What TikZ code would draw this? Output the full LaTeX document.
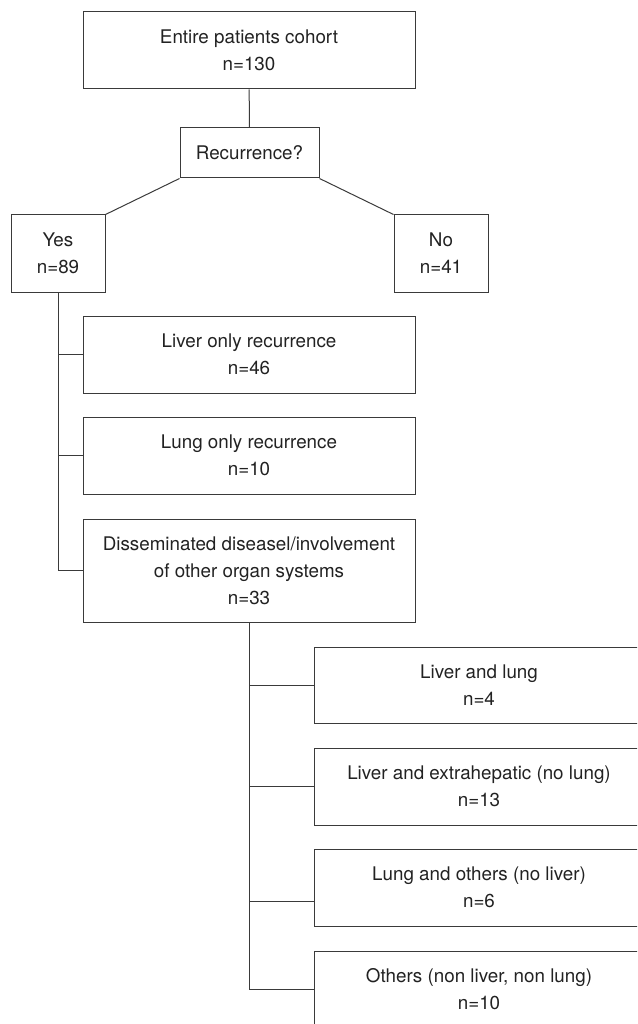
\documentclass[tikz,border=0pt]{standalone}
\usepackage{fontspec}
\setmainfont{TeX Gyre Heros}
\usepackage{xcolor}
\definecolor{boxline}{HTML}{3A3A3A}
\definecolor{boxtext}{HTML}{222222}
\tikzset{
	box/.style={draw=boxline, line width=1pt, rectangle, align=center, inner sep=0pt, text=boxtext},
	link/.style={draw=boxline, line width=1pt}
}
\newcommand{\boxfont}{\fontsize{18.8}{27}\selectfont}

\begin{document}
\begin{tikzpicture}[x=1pt, y=-1pt, font=\boxfont]
	\useasboundingbox (0,0) rectangle (637,1024);
	\clip (0,0) rectangle (637,1024);
	\node[box, minimum width=332pt, minimum height=77pt] (cohort) at (249,50.5) {Entire patients cohort\\n=130};
	\node[box, minimum width=139pt, minimum height=50pt] (recur) at (249.5,153) {Recurrence?};
	\node[box, minimum width=94pt, minimum height=77pt] (yes) at (58,253.5) {Yes\\n=89};
	\node[box, minimum width=94pt, minimum height=77pt] (no) at (441,253.5) {No\\n=41};
	\node[box, minimum width=332pt, minimum height=77pt] (liver) at (249,354.5) {Liver only recurrence\\n=46};
	\node[box, minimum width=332pt, minimum height=77pt] (lung) at (249,455.5) {Lung only recurrence\\n=10};
	\node[box, minimum width=332pt, minimum height=103pt] (dissem) at (249,570.5) {Disseminated diseasel/involvement\\of other organ systems\\n=33};
	\node[box, minimum width=330pt, minimum height=76pt] (livlung) at (479,685) {Liver and lung\\n=4};
	\node[box, minimum width=330pt, minimum height=77pt] (livext) at (479,786.5) {Liver and extrahepatic (no lung)\\n=13};
	\node[box, minimum width=330pt, minimum height=77pt] (lungoth) at (479,887.5) {Lung and others (no liver)\\n=6};
	\node[box, minimum width=330pt, minimum height=77pt] (others) at (479,989.5) {Others (non liver, non lung)\\n=10};
	\coordinate (lotap) at ([yshift=-13.5pt]lungoth.west);
	\path[link]
		(cohort) edge (recur)
		(recur.south west) edge (yes.north east)
		(recur.south east) edge (no.north west);
	% yes branch
	\draw[link] (yes.south) |- (dissem.west);
	\draw[link] (yes.south |- liver.west) -- (liver.west);
	\draw[link] (yes.south |- lung.west) -- (lung.west);
	% disseminated branch
	\draw[link] (dissem.south) |- (others.west);
	\draw[link] (dissem.south |- livlung.west) -- (livlung.west);
	\draw[link] (dissem.south |- livext.west) -- (livext.west);
	\draw[link] (dissem.south |- lotap) -- (lotap);
\end{tikzpicture}
\end{document}
